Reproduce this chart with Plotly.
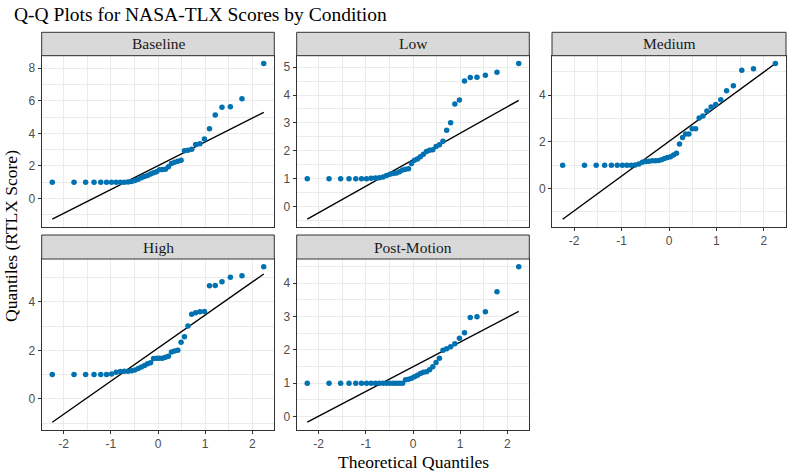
import plotly.graph_objects as go
from statistics import NormalDist

# ---------------- data (sorted sample quantiles, n = 40 per condition) ----------------
conditions = ["Baseline", "Low", "Medium", "High", "Post-Motion"]

baseline = [1.0, 1.0, 1.0, 1.0, 1.0, 1.0, 1.0, 1.0, 1.0, 1.0,
            1.02, 1.05, 1.10, 1.18, 1.27, 1.35, 1.42, 1.50, 1.58, 1.64,
            1.76, 1.78, 1.80, 1.95, 2.15, 2.22, 2.28, 2.35, 2.93, 2.97,
            3.02, 3.32, 3.36, 3.66, 4.29, 5.13, 5.60, 5.64, 6.13, 8.29]

low = [1.0, 1.0, 1.0, 1.0, 1.0, 1.0, 1.0, 1.02, 1.03, 1.04,
       1.06, 1.12, 1.16, 1.19, 1.21, 1.25, 1.31, 1.34, 1.36, 1.55,
       1.66, 1.71, 1.79, 1.88, 1.98, 2.02, 2.04, 2.16, 2.22, 2.34,
       2.74, 3.01, 3.68, 3.82, 4.50, 4.63, 4.64, 4.71, 4.82, 5.13]

medium = [1.0, 1.0, 1.0, 1.0, 1.0, 1.0, 1.0, 1.0, 1.0, 1.01,
          1.06, 1.13, 1.16, 1.17, 1.19, 1.19, 1.21, 1.24, 1.29, 1.33,
          1.37, 1.44, 1.51, 1.91, 2.19, 2.34, 2.34, 2.56, 2.57, 3.03,
          3.11, 3.33, 3.50, 3.60, 3.81, 4.19, 4.41, 5.07, 5.13, 5.36]

high = [1.0, 1.0, 1.0, 1.0, 1.0, 1.0, 1.03, 1.10, 1.13, 1.14,
        1.14, 1.16, 1.19, 1.25, 1.31, 1.37, 1.45, 1.49, 1.66, 1.67,
        1.67, 1.67, 1.71, 1.76, 1.93, 1.97, 2.00, 2.33, 2.56, 3.00,
        3.49, 3.55, 3.59, 3.60, 4.66, 4.67, 4.82, 5.01, 5.07, 5.44]

post_motion = [1.0, 1.0, 1.0, 1.0, 1.0, 1.0, 1.0, 1.0, 1.0, 1.0,
               1.0, 1.0, 1.0, 1.0, 1.0, 1.0, 1.0, 1.10, 1.12, 1.15,
               1.19, 1.24, 1.29, 1.33, 1.34, 1.40, 1.49, 1.62, 1.75, 1.99,
               2.03, 2.09, 2.18, 2.35, 2.51, 2.97, 2.99, 3.14, 3.74, 4.49]

# reference (Q-Q) line per condition
line_intercept = [2.01, 1.68, 2.025, 2.09, 1.49]
line_slope = [1.464, 0.950, 1.488, 1.361, 0.741]

y_tick_step = [2, 1, 2, 2, 1]
x_tick_vals = [-2, -1, 0, 1, 2]

samples = [baseline, low, medium, high, post_motion]

# ---------------- layout geometry ----------------
W, H = 793, 475
cols_px = [(41.7, 274.3), (296.7, 529.3), (552.0, 786.0)]
rows_px = [((32.3, 55.7), (55.7, 227.0)), ((235.0, 259.0), (259.0, 430.0))]
grid_pos = [(0, 0), (0, 1), (0, 2), (1, 0), (1, 1)]
show_x_labels = [False, False, True, True, True]

SERIF = "Liberation Serif, Times New Roman, serif"
SANS = "Liberation Sans, Arial, sans-serif"
POINT_COLOR = "#0072B2"
GRID = "#EBEBEB"
BORDER = "#333333"


def px_x(v):
    return v / W


def px_y(v):
    return 1 - v / H


fig = go.Figure()
shapes = []
annotations = []

for k, (name, ys) in enumerate(zip(conditions, samples)):
    n = len(ys)
    theo = [NormalDist().inv_cdf((i - 0.5) / n) for i in range(1, n + 1)]
    xmin, xmax = theo[0], theo[-1]
    xr = xmax - xmin
    x_range = [xmin - 0.05 * xr, xmax + 0.05 * xr]

    lx = [xmin, xmax]
    ly = [line_intercept[k] + line_slope[k] * v for v in lx]
    lo = min(min(ys), min(ly))
    hi = max(max(ys), max(ly))
    yr = hi - lo
    y_range = [lo - 0.05 * yr, hi + 0.05 * yr]

    r, c = grid_pos[k]
    (sx0, sx1) = cols_px[c]
    (st0, st1), (py0, py1) = rows_px[r]
    ax = "" if k == 0 else str(k + 1)

    fig.add_trace(go.Scatter(
        x=lx, y=ly, mode="lines",
        line=dict(color="black", width=1.4),
        xaxis="x" + ax, yaxis="y" + ax, showlegend=False, hoverinfo="skip"))
    fig.add_trace(go.Scatter(
        x=theo, y=ys, mode="markers",
        marker=dict(color=POINT_COLOR, size=5.5, line=dict(width=0)),
        xaxis="x" + ax, yaxis="y" + ax, showlegend=False, name=name))

    xaxis = dict(
        domain=[px_x(sx0), px_x(sx1)], range=x_range, anchor="y" + ax,
        tickmode="array", tickvals=x_tick_vals,
        ticktext=[str(v) for v in x_tick_vals],
        showticklabels=show_x_labels[k],
        ticks="outside" if show_x_labels[k] else "",
        ticklen=3, tickcolor=BORDER, tickwidth=1,
        tickfont=dict(family=SANS, size=12, color="#4D4D4D"),
        showgrid=True, gridcolor=GRID, gridwidth=1,
        minor=dict(dtick=0.5, tick0=0, showgrid=True, gridcolor=GRID, gridwidth=0.6),
        zeroline=False, showline=True, mirror=True, linecolor=BORDER, linewidth=1,
        fixedrange=True,
    )
    yaxis = dict(
        domain=[px_y(py1), px_y(py0)], range=y_range, anchor="x" + ax,
        tick0=0, dtick=y_tick_step[k],
        ticks="outside", ticklen=3, tickcolor=BORDER, tickwidth=1,
        tickfont=dict(family=SANS, size=12, color="#4D4D4D"),
        showgrid=True, gridcolor=GRID, gridwidth=1,
        minor=dict(dtick=y_tick_step[k] / 2, tick0=0, showgrid=True,
                   gridcolor=GRID, gridwidth=0.6),
        zeroline=False, showline=True, mirror=True, linecolor=BORDER, linewidth=1,
        fixedrange=True,
    )
    fig.layout["xaxis" + ax] = xaxis
    fig.layout["yaxis" + ax] = yaxis

    # strip
    shapes.append(dict(
        type="rect", xref="paper", yref="paper",
        x0=px_x(sx0), x1=px_x(sx1), y0=px_y(st1), y1=px_y(st0),
        fillcolor="#D9D9D9", line=dict(color=BORDER, width=1), layer="above"))
    annotations.append(dict(
        text=name, xref="paper", yref="paper",
        x=px_x((sx0 + sx1) / 2), y=px_y((st0 + st1) / 2),
        xanchor="center", yanchor="middle", showarrow=False,
        font=dict(family=SERIF, size=15.5, color="#1A1A1A")))

# axis titles and main title
annotations.append(dict(
    text="Theoretical Quantiles", xref="paper", yref="paper",
    x=px_x((41.7 + 786.0) / 2), y=px_y(462), xanchor="center", yanchor="middle",
    showarrow=False, font=dict(family=SERIF, size=17.5, color="black")))
annotations.append(dict(
    text="Quantiles (RTLX Score)", xref="paper", yref="paper",
    x=px_x(11), y=px_y(236), xanchor="center", yanchor="middle", textangle=-90,
    showarrow=False, font=dict(family=SERIF, size=17.5, color="black")))
annotations.append(dict(
    text="Q-Q Plots for NASA-TLX Scores by Condition", xref="paper", yref="paper",
    x=px_x(12), y=px_y(14.5), xanchor="left", yanchor="middle",
    showarrow=False, font=dict(family=SERIF, size=19.5, color="black")))

fig.update_layout(
    width=W, height=H,
    margin=dict(l=0, r=0, t=0, b=0),
    paper_bgcolor="white", plot_bgcolor="white",
    shapes=shapes, annotations=annotations,
    showlegend=False,
)

fig.write_html(
    "out.html",
    config={"displayModeBar": False},
    post_script="document.body.style.margin='0px';document.body.style.overflow='hidden';",
)
